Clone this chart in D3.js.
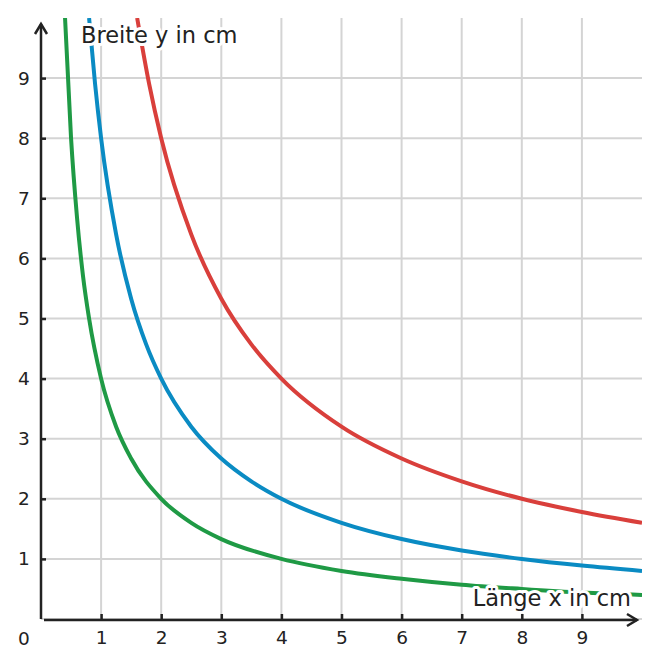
<!DOCTYPE html>
<html>
<head>
<meta charset="utf-8">
<script src="https://cdn.jsdelivr.net/npm/d3@7"></script>
<style>
  body { margin: 0; background: #fff; }
  text { font-family: "DejaVu Sans", sans-serif; fill: #222; }
  .grid line { stroke: #d4d4d4; stroke-width: 2; }
  .curve { fill: none; stroke-width: 4; }
  .label { font-size: 22.5px; paint-order: stroke; stroke: #fff; stroke-width: 6px; stroke-linejoin: round; }
</style>
</head>
<body>
<script>
// values (x in cm, y in cm)
var greenX = [0.4, 0.5, 0.6, 0.7, 0.8, 1, 1.25, 1.5, 2, 2.5, 3, 4, 5, 6, 7, 8, 9, 10];
var greenY = [10, 8, 6.67, 5.7, 5, 4, 3.2, 2.67, 2, 1.6, 1.33, 1, 0.8, 0.67, 0.57, 0.5, 0.44, 0.4];

var blueX = [0.8, 0.9, 1, 1.25, 1.5, 1.75, 2, 2.5, 3, 3.5, 4, 5, 6, 7, 8, 9, 10];
var blueY = [10, 8.9, 8, 6.4, 5.33, 4.57, 4, 3.2, 2.67, 2.29, 2, 1.6, 1.33, 1.14, 1, 0.89, 0.8];

var redX = [1.6, 1.8, 2, 2.5, 3, 3.5, 4, 5, 6, 7, 8, 9, 10];
var redY = [10, 8.9, 8, 6.4, 5.33, 4.57, 4, 3.2, 2.67, 2.29, 2, 1.78, 1.6];

var tickValues = [1, 2, 3, 4, 5, 6, 7, 8, 9];
var xTitle = "Länge x in cm";
var yTitle = "Breite y in cm";

var width = 661, height = 668;

// scales: 0..10 on both axes
var x = d3.scaleLinear().domain([0, 10]).range([41, 642]);
var y = d3.scaleLinear().domain([0, 10]).range([619, 18]);

var svg = d3.select("body").append("svg")
    .attr("width", width)
    .attr("height", height);

// grid
var grid = svg.append("g").attr("class", "grid");
grid.selectAll(".v")
    .data(tickValues)
  .enter().append("line")
    .attr("x1", function(d) { return x(d); })
    .attr("x2", function(d) { return x(d); })
    .attr("y1", y(10))
    .attr("y2", y(0));
grid.selectAll(".h")
    .data([0].concat(tickValues))
  .enter().append("line")
    .attr("x1", x(0))
    .attr("x2", x(10))
    .attr("y1", function(d) { return y(d); })
    .attr("y2", function(d) { return y(d); });

// clip the curves to the plot area
svg.append("clipPath").attr("id", "plot")
  .append("rect")
    .attr("x", x(0)).attr("y", y(10))
    .attr("width", x(10) - x(0)).attr("height", y(0) - y(10));

var line = d3.line()
    .x(function(d) { return x(d[0]); })
    .y(function(d) { return y(d[1]); })
    .curve(d3.curveMonotoneX);

var series = [
  {xs: greenX, ys: greenY, color: "#1f9a45"},
  {xs: blueX, ys: blueY, color: "#0a8bc3"},
  {xs: redX, ys: redY, color: "#d93f3b"}
];

svg.append("g").attr("clip-path", "url(#plot)")
  .selectAll("path")
    .data(series)
  .enter().append("path")
    .attr("class", "curve")
    .attr("stroke", function(d) { return d.color; })
    .attr("d", function(d) {
      return line(d.xs.map(function(v, i) { return [v, d.ys[i]]; }));
    });

// axes with inward ticks
var xAxis = svg.append("g")
    .attr("transform", "translate(0," + y(0) + ")")
    .call(d3.axisBottom(x).tickValues(tickValues).tickSize(-5).tickPadding(12));
var yAxis = svg.append("g")
    .attr("transform", "translate(" + x(0) + ",0)")
    .call(d3.axisLeft(y).tickValues(tickValues).tickSize(-5).tickPadding(12));

[xAxis, yAxis].forEach(function(a) {
  a.select(".domain").remove();
  a.selectAll(".tick line").attr("stroke", "#222").attr("stroke-width", 2.5);
  a.selectAll(".tick text").attr("font-size", 18.5).attr("font-family", "DejaVu Sans").attr("fill", "#222");
});
yAxis.selectAll(".tick text").attr("text-anchor", "middle").attr("x", -17);

// origin label
svg.append("text")
    .attr("x", x(0) - 17).attr("y", y(0) + 26)
    .attr("text-anchor", "middle")
    .attr("font-size", 18.5)
    .text("0");

// axis lines with open arrow heads
var axisStyle = function(sel) {
  return sel.attr("fill", "none").attr("stroke", "#222")
    .attr("stroke-width", 2.5).attr("stroke-linejoin", "miter");
};
svg.append("path").call(axisStyle)
    .attr("d", "M" + x(0) + "," + y(0) + "V24");
svg.append("path").call(axisStyle)
    .attr("d", "M" + (x(0) - 6) + ",34L" + x(0) + ",24L" + (x(0) + 6) + ",34");
svg.append("path").call(axisStyle)
    .attr("d", "M" + (x(0) + 3) + "," + (y(0) + 1) + "H637");
svg.append("path").call(axisStyle)
    .attr("d", "M627," + (y(0) - 5) + "L637," + (y(0) + 1) + "L627," + (y(0) + 7));

// axis titles
svg.append("text").attr("class", "label")
    .attr("x", 81).attr("y", 43)
    .text(yTitle);
svg.append("text").attr("class", "label")
    .attr("x", 631).attr("y", 606)
    .attr("text-anchor", "end")
    .text(xTitle);
</script>
</body>
</html>
